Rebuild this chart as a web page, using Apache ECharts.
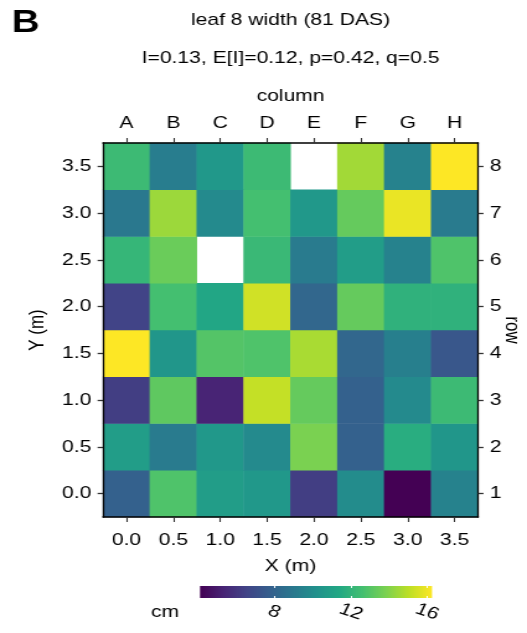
<!DOCTYPE html>
<html><head><meta charset="utf-8">
<script src="https://cdn.jsdelivr.net/npm/echarts@6/dist/echarts.min.js"></script>
<style>
html,body{margin:0;padding:0;background:#fff;overflow:hidden;width:527px;height:633px}
#c{width:425px;height:633px;transform:scaleX(1.24);transform-origin:0 0}
</style>
</head><body><div id="c"></div>
<script>
// ---- data ----
const xLabels = ['0.0', '0.5', '1.0', '1.5', '2.0', '2.5', '3.0', '3.5'];
const colLabels = ['A', 'B', 'C', 'D', 'E', 'F', 'G', 'H'];
const yLabels = ['0.0', '0.5', '1.0', '1.5', '2.0', '2.5', '3.0', '3.5'];
const rowLabels = ['1', '2', '3', '4', '5', '6', '7', '8'];
// leaf width (cm) per row, columns A..H (null = missing)
const rowY00 = [7.87, 12.85, 10.79, 10.54, 6.30, 9.94, 4.11, 9.45];
const rowY05 = [10.79, 9.09, 10.54, 9.82, 13.82, 7.87, 11.64, 10.42];
const rowY10 = [6.30, 13.22, 5.32, 15.16, 13.34, 7.87, 9.82, 12.37];
const rowY15 = [16.25, 10.42, 12.97, 12.85, 14.67, 8.12, 9.33, 7.39];
const rowY20 = [6.54, 12.61, 11.27, 15.40, 8.12, 13.34, 11.88, 11.88];
const rowY25 = [12.12, 13.46, null, 12.24, 9.09, 10.79, 9.45, 12.85];
const rowY30 = [8.97, 14.43, 9.82, 12.61, 10.54, 13.34, 15.89, 9.09];
const rowY35 = [12.37, 9.21, 10.54, 12.37, null, 14.55, 9.45, 16.25];
const colorMin = 4.11;
const colorMax = 16.25;
const colorbarTicks = [8, 12, 16];

// ---- build ----
const viridis = ['#440154', '#482475', '#414487', '#355f8d', '#2a788e', '#21918c',
  '#22a884', '#44bf70', '#7ad151', '#bddf26', '#fde725'];
const rows = [rowY00, rowY05, rowY10, rowY15, rowY20, rowY25, rowY30, rowY35];
const heatData = [];
rows.forEach((r, yi) => r.forEach((v, xi) => { if (v !== null) heatData.push([xi, yi, v]); }));

const FF = 'Liberation Sans, Arial, sans-serif';
const FS = 17;
const lab = { fontFamily: FF, fontSize: FS, color: '#000' };
const tickV = { show: true, alignWithLabel: true, length: 5, lineStyle: { color: '#333', width: 1.1 } };
const tickH = { show: true, alignWithLabel: true, length: 4.4, lineStyle: { color: '#333', width: 1.3 } };
const lineX = { show: true, lineStyle: { color: '#000', width: 1.6 } };
const lineY = { show: true, lineStyle: { color: '#000', width: 1.3 } };
const nameStyle = { fontFamily: FF, fontSize: FS, color: '#000' };

const chart = echarts.init(document.getElementById('c'));
const stops = viridis.map((c, i) => ({ offset: i / (viridis.length - 1), color: c }));
chart.setOption({
  animation: false,
  backgroundColor: '#fff',
  grid: [
    { left: 83.1, top: 143, width: 302.4, height: 374, outerBoundsMode: 'none', containLabel: false },
    { left: 161.3, top: 586, width: 187.1, height: 12, outerBoundsMode: 'none', containLabel: false }
  ],
  xAxis: [
    { gridIndex: 0, type: 'category', position: 'bottom', data: xLabels, z: 10,
      axisLine: lineX, axisTick: tickV, splitLine: { show: false },
      axisLabel: Object.assign({ margin: 15 }, lab),
      name: 'X (m)', nameLocation: 'middle', nameGap: 41, nameTextStyle: nameStyle },
    { gridIndex: 0, type: 'category', position: 'top', data: colLabels, z: 10,
      axisLine: lineX, axisTick: tickV, splitLine: { show: false },
      axisLabel: Object.assign({ margin: 11 }, lab),
      name: 'column', nameLocation: 'middle', nameGap: 38, nameTextStyle: nameStyle },
    { gridIndex: 1, type: 'value', position: 'bottom', min: colorMin, max: colorMax, z: 10,
      axisLine: { show: false }, splitLine: { show: false },
      axisTick: { show: true, inside: true, length: 2, customValues: colorbarTicks, lineStyle: { color: '#fff', width: 1 } },
      axisLabel: Object.assign({ customValues: colorbarTicks, rotate: -22, margin: 14, align: 'center', verticalAlign: 'middle' }, lab) },
    { gridIndex: 1, type: 'value', position: 'top', min: colorMin, max: colorMax, z: 10,
      axisLine: { show: false }, splitLine: { show: false },
      axisTick: { show: true, inside: true, length: 2, customValues: colorbarTicks, lineStyle: { color: '#fff', width: 1 } },
      axisLabel: { show: false } }
  ],
  yAxis: [
    { gridIndex: 0, type: 'category', position: 'left', data: yLabels, z: 10,
      axisLine: lineY, axisTick: tickH, splitLine: { show: false },
      axisLabel: Object.assign({ margin: 9.5 }, lab),
      name: 'Y (m)', nameLocation: 'middle', nameGap: 44, nameRotate: 90, nameTextStyle: nameStyle },
    { gridIndex: 0, type: 'category', position: 'right', data: rowLabels, z: 10,
      axisLine: lineY, axisTick: tickH, splitLine: { show: false },
      axisLabel: Object.assign({ margin: 9.5 }, lab),
      name: 'row', nameLocation: 'middle', nameGap: 19, nameRotate: -90, nameMoveOverlap: false,
      nameTextStyle: nameStyle },
    { gridIndex: 1, type: 'category', data: ['cb'], show: false }
  ],
  visualMap: {
    type: 'continuous', show: false, seriesIndex: 0, dimension: 2,
    min: colorMin, max: colorMax, inRange: { color: viridis }
  },
  graphic: [
    { type: 'text', x: 9.5, y: 8, style: { text: 'B', fontFamily: FF, fontSize: 31, fontWeight: 'bold', fill: '#000' } },
    { type: 'text', x: 234.3, y: 20, style: { text: 'leaf 8 width (81 DAS)', align: 'center', verticalAlign: 'middle', fontFamily: FF, fontSize: FS, fill: '#000' } },
    { type: 'text', x: 234.3, y: 58, style: { text: 'I=0.13, E[I]=0.12, p=0.42, q=0.5', align: 'center', verticalAlign: 'middle', fontFamily: FF, fontSize: FS, fill: '#000' } },
    { type: 'text', x: 133, y: 612, style: { text: 'cm', align: 'center', verticalAlign: 'middle', fontFamily: FF, fontSize: FS, fill: '#000' } }
  ],
  series: [
    { type: 'heatmap', xAxisIndex: 0, yAxisIndex: 0, data: heatData,
      itemStyle: { borderWidth: 0 }, emphasis: { disabled: true }, silent: true },
    { type: 'custom', xAxisIndex: 2, yAxisIndex: 2, silent: true,
      encode: { x: [0, 1], y: 2 },
      data: [[colorMin, colorMax, 0]],
      renderItem: function (params, api) {
        const p0 = api.coord([api.value(0), 0]);
        const p1 = api.coord([api.value(1), 0]);
        const h = api.size([0, 1])[1];
        return {
          type: 'rect',
          shape: { x: p0[0], y: p0[1] - h / 2, width: p1[0] - p0[0], height: h },
          style: { fill: new echarts.graphic.LinearGradient(0, 0, 1, 0, stops) }
        };
      } }
  ]
});
</script>
</body></html>
